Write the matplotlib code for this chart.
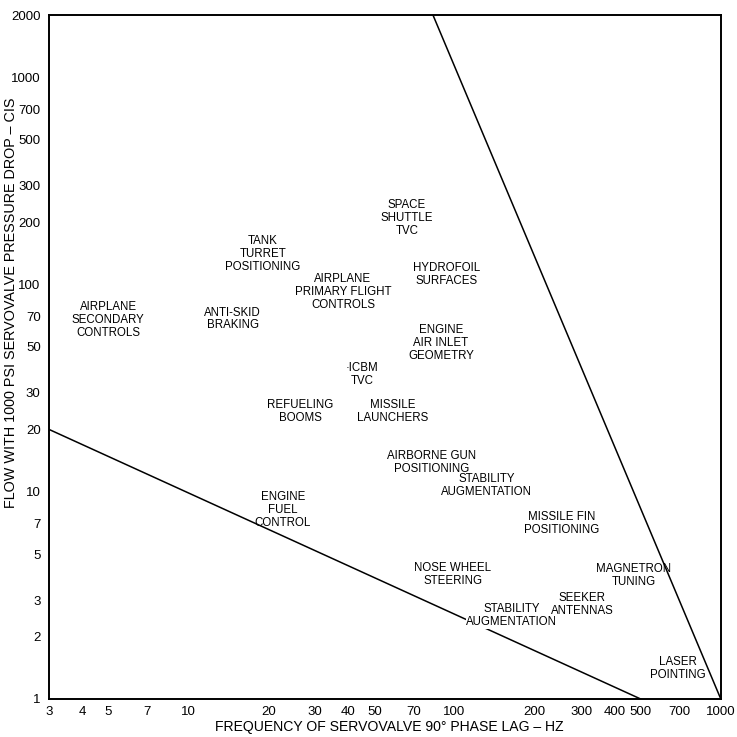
import matplotlib.pyplot as plt
from matplotlib.ticker import FixedLocator, NullLocator

plt.rcParams['font.family'] = ['Liberation Sans', 'DejaVu Sans']

# boundary lines (frequency Hz, flow cis)
low_x = [3, 500]
low_y = [20, 1]
high_x = [83, 1000]
high_y = [2000, 1]

# application labels: text, frequency, flow
labels = [
    "AIRPLANE\nSECONDARY\nCONTROLS",
    "TANK\nTURRET\nPOSITIONING",
    "ANTI-SKID\nBRAKING",
    "AIRPLANE\nPRIMARY FLIGHT\nCONTROLS",
    "SPACE\nSHUTTLE\nTVC",
    "HYDROFOIL\nSURFACES",
    "ENGINE\nAIR INLET\nGEOMETRY",
    "·ICBM\nTVC",
    "REFUELING\nBOOMS",
    "MISSILE\nLAUNCHERS",
    "AIRBORNE GUN\nPOSITIONING",
    "STABILITY\nAUGMENTATION",
    "MISSILE FIN\nPOSITIONING",
    "ENGINE\nFUEL\nCONTROL",
    "NOSE WHEEL\nSTEERING",
    "MAGNETRON\nTUNING",
    "SEEKER\nANTENNAS",
    "STABILITY\nAUGMENTATION",
    "LASER\nPOINTING",
]
label_x = [5.0, 19.1, 14.7, 38.1, 66.2, 93.6, 88.9, 44.9, 26.3, 58.7,
           82.2, 132, 253, 22.7, 98.6, 471, 301, 164, 690]
label_y = [67.5, 140, 68.2, 92.1, 210, 112, 52.3, 37.0, 24.5, 24.5,
           13.9, 10.7, 7.03, 8.17, 3.97, 3.95, 2.87, 2.52, 1.40]
boxed = [17]  # label that breaks the lower line

x_ticks = [3, 4, 5, 7, 10, 20, 30, 40, 50, 70, 100, 200, 300, 400, 500, 700, 1000]
y_ticks = [1, 2, 3, 5, 7, 10, 20, 30, 50, 70, 100, 200, 300, 500, 700, 1000, 2000]

fig = plt.figure(figsize=(7.37, 7.37), dpi=100)
ax = fig.add_axes([0.0665, 0.0516, 0.9115, 0.928])
ax.set_xscale('log')
ax.set_yscale('log')
ax.set_xlim(3, 1000)
ax.set_ylim(1, 2000)

ax.plot(low_x, low_y, color='black', lw=1.1)
ax.plot(high_x, high_y, color='black', lw=1.1)

for i, (t, x, y) in enumerate(zip(labels, label_x, label_y)):
    kw = {'zorder': 4}
    if i in boxed:
        # white box breaks the line behind the text, kept under other labels
        kw = {'zorder': 3,
              'bbox': dict(facecolor='white', edgecolor='none', pad=0.5)}
    ax.text(x, y, t, ha='center', va='center', multialignment='center',
            fontsize=8.3, linespacing=1.1, color='black', **kw)

ax.xaxis.set_major_locator(FixedLocator(x_ticks))
ax.yaxis.set_major_locator(FixedLocator(y_ticks))
ax.xaxis.set_minor_locator(NullLocator())
ax.yaxis.set_minor_locator(NullLocator())
ax.set_xticklabels([str(v) for v in x_ticks])
ax.set_yticklabels([str(v) for v in y_ticks])
ax.tick_params(length=0, labelsize=9.5)
ax.tick_params(axis='x', pad=5)
ax.tick_params(axis='y', pad=6)

for s in ax.spines.values():
    s.set_linewidth(1.4)

ax.set_xlabel("FREQUENCY OF SERVOVALVE 90° PHASE LAG – HZ", fontsize=10.1)
ax.set_ylabel("FLOW WITH 1000 PSI SERVOVALVE PRESSURE DROP – CIS", fontsize=10.4)
ax.xaxis.set_label_coords(0.506, -0.031)
ax.yaxis.set_label_coords(-0.046, 0.579)

fig.savefig('out.png', dpi=100)
